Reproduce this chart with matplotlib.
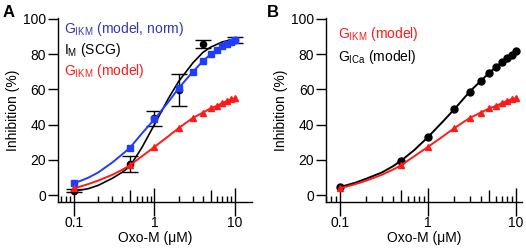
import matplotlib.pyplot as plt
import numpy as np

plt.rcParams['font.family'] = ['Liberation Sans', 'DejaVu Sans']
plt.rcParams['mathtext.default'] = 'regular'

# data
conc = [0.1, 0.5, 1, 2, 3, 4, 5, 6, 7, 8, 9, 10]
gikm_norm = [6.6, 27, 43, 60.7, 70, 76, 80, 82.5, 84.5, 86, 87, 88]
gikm = [3.8, 17, 27.3, 38, 43.8, 46.8, 49.3, 50.7, 52.3, 53.5, 54.4, 55]
gica = [4.5, 19.6, 32.8, 48.7, 58.8, 64.8, 69.5, 72.8, 75.7, 78, 79.8, 81.6]

scg_x = [0.1, 0.5, 1, 2, 4, 10]
scg_y = [2.5, 17.5, 43.5, 59.5, 86, 88]
scg_err = [1, 4.5, 4.5, 9, 2.2, 1.6]

# smooth curves
fit_x = [0.1, 0.15, 0.2, 0.3, 0.4, 0.5, 0.7, 1, 1.5, 2, 3, 4, 5, 7, 10, 11]
fit_scg = [2.2, 3.6, 5.5, 9.5, 13, 16.5, 27, 40, 55, 64.5, 75, 81, 84, 87, 88.6, 89]

norm_cx = [0.1, 0.15, 0.2, 0.3, 0.4, 0.5, 0.7, 1, 1.5, 2, 3, 4, 5, 6, 7, 8, 9, 10]
norm_cy = [6.6, 9.8, 12.8, 18.5, 23.2, 27, 35, 43, 53, 60.7, 70, 76, 80, 82.5, 84.5, 86, 87, 88]

ikm_cx = [0.1, 0.15, 0.2, 0.3, 0.4, 0.5, 0.7, 1, 1.5, 2, 3, 4, 5, 6, 7, 8, 9, 10]
ikm_cy = [3.8, 6.2, 8.2, 11.5, 14.4, 17, 22, 27.3, 33.5, 38, 43.8, 46.8, 49.3, 50.7, 52.3, 53.5, 54.4, 55]

ica_cx = [0.1, 0.15, 0.2, 0.3, 0.4, 0.5, 0.7, 1, 1.5, 2, 3, 4, 5, 6, 7, 8, 9, 10]
ica_cy = [4.5, 7, 9.3, 12.8, 16.3, 19.6, 25.5, 32.8, 42, 48.7, 58.8, 64.8, 69.5, 72.8, 75.7, 78, 79.8, 81.6]

blue = '#1f3cff'
red = '#ff1a1a'
blue_txt = '#3535b8'
fs = 10

fig = plt.figure(figsize=(5.26, 2.48), dpi=100)
axA = fig.add_axes([0.110, 0.185, 0.369, 0.742])
axB = fig.add_axes([0.620, 0.185, 0.372, 0.742])


def style(ax, xmin, xmax):
    ax.set_xscale('log')
    ax.set_xlim(xmin, xmax)
    ax.set_ylim(-4, 100.5)
    ax.spines['top'].set_visible(False)
    ax.spines['right'].set_visible(False)
    for s in ['left', 'bottom']:
        ax.spines[s].set_linewidth(1.0)
    ax.set_xticks([0.1, 1, 10])
    ax.set_xticklabels(['0.1', '1', '10'])
    minors = [0.07, 0.08, 0.09] + [k * 0.1 for k in range(2, 10)] + list(range(2, 10))
    ax.set_xticks(minors, minor=True)
    ax.set_xticklabels([], minor=True)
    ax.tick_params(axis='x', which='major', direction='inout', length=20, width=1.0,
                   labelsize=fs, pad=0)
    ax.tick_params(axis='x', which='minor', direction='in', length=4, width=1.0)
    for t in ax.xaxis.get_minor_ticks():
        if abs(t.get_loc() - 0.5) < 1e-6 or abs(t.get_loc() - 5) < 1e-6:
            t.tick1line.set_markersize(9)
    ax.set_yticks([0, 20, 40, 60, 80, 100])
    ax.tick_params(axis='y', direction='out', length=7, width=1.0, labelsize=fs, pad=1.5)
    ax.set_xlabel('Oxo-M (\u03bcM)', fontsize=fs, labelpad=1)
    ax.set_ylabel('Inhibition (%)', fontsize=fs, labelpad=2)


# panel A
style(axA, 10 ** (-1 - 16 / 80.5), 16.3)
axA.plot(fit_x, fit_scg, color='black', lw=1.2, zorder=2)
axA.errorbar(scg_x, scg_y, yerr=scg_err, fmt='o', color='black', ms=4.5,
             capsize=5.5, elinewidth=1.0, capthick=1.0, zorder=3)
axA.plot(norm_cx, norm_cy, color=blue, lw=1.4, zorder=4)
axA.plot(conc, gikm_norm, 's', color=blue, ms=4.8, zorder=5)
axA.plot(ikm_cx, ikm_cy, color=red, lw=1.4, zorder=4)
axA.plot(conc, gikm, '^', color=red, ms=5, zorder=5)

axA.text(0.075, 92, r'G$_{IKM}$ (model, norm)', color=blue_txt, fontsize=fs)
axA.text(0.075, 80, r'I$_{M}$ (SCG)', color='black', fontsize=fs)
axA.text(0.075, 68, r'G$_{IKM}$ (model)', color=red, fontsize=fs)

# panel B
style(axB, 10 ** (-1 - 12 / 88.5), 11.7)
axB.plot(ica_cx, ica_cy, color='black', lw=1.4, zorder=2)
axB.plot(conc, gica, 'o', color='black', ms=5, zorder=3)
axB.plot(ikm_cx, ikm_cy, color=red, lw=1.4, zorder=4)
axB.plot(conc, gikm, '^', color=red, ms=5, zorder=5)

axB.text(0.095, 89, r'G$_{IKM}$ (model)', color=red, fontsize=fs)
axB.text(0.095, 76, r'G$_{ICa}$ (model)', color='black', fontsize=fs)

fig.text(0.004, 0.93, 'A', fontsize=12, fontweight='bold')
fig.text(0.507, 0.93, 'B', fontsize=12, fontweight='bold')

fig.savefig('out.png', dpi=100)
